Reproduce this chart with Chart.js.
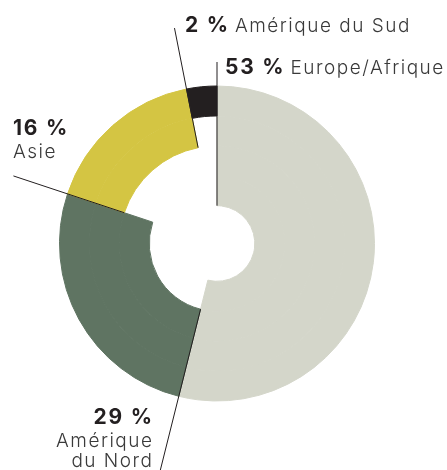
<!DOCTYPE html>
<html lang="fr">
<head>
<meta charset="utf-8">
<script src="https://cdn.jsdelivr.net/npm/chart.js@4"></script>
<style>
  html, body { margin: 0; padding: 0; background: #fff; }
  #wrap { width: 447px; height: 470px; }
</style>
</head>
<body>
<div id="wrap"><canvas id="chart" width="447" height="470"></canvas></div>
<script>
// ── Data ──────────────────────────────────────────────────────────────────
const regions   = ['Europe/Afrique', 'Amérique du Nord', 'Asie', 'Amérique du Sud'];
const pctLabels = ['53 %', '29 %', '16 %', '2 %'];
const shares    = [53.9, 26.2, 16.8, 3.1];
// number of stacked rings each slice fills (outer ring first)
const ringDepth = [4, 3, 2, 1];
const colours   = ['#d4d6ca', '#5f7462', '#d4c543', '#231f20'];

const INK   = '#231f20';
const LIGHT = '#3a3a3a';
const FONT  = "Inter, 'Noto Sans', sans-serif";
const RINGS = 4;

// label placement: text anchor + leader line (ring whose inner edge it starts at, outer reach)
const LABELS = [
  { x: 225, y: 74,  align: 'inline', lines: ['Europe/Afrique'],      fromRing: 3, reach: 181.5 },
  { x: 152, y: 424, align: 'right',  lines: ['Amérique', 'du Nord'], fromRing: 2, reach: 245 },
  { x: 13,  y: 135, align: 'left',   lines: ['Asie'],                fromRing: 1, reach: 214.5 },
  { x: 185, y: 32,  align: 'inline', lines: ['Amérique du Sud'],     fromRing: 1, reach: 219.6 },
];

// ── Ring datasets: slice i shows on ring d only when d < ringDepth[i] ─────
const datasets = [];
for (let d = 0; d < RINGS; d++) {
  const bg = colours.map((c, i) => d < ringDepth[i] ? c : 'rgba(0,0,0,0)');
  datasets.push({
    data:            shares,
    backgroundColor: bg,
    borderColor:     bg,
    borderWidth:     1,
  });
}

// ── Labels + leader lines plugin ──────────────────────────────────────────
const BOLD_SP  = 1.8;
const LIGHT_SP = 1.5;

const calloutPlugin = {
  id: 'callouts',
  afterDraw(chart) {
    const ctx = chart.ctx;
    ctx.save();

    // leader lines along the start edge of each slice
    LABELS.forEach((lab, i) => {
      const outerArc = chart.getDatasetMeta(0).data[i];
      const innerArc = chart.getDatasetMeta(lab.fromRing).data[i];
      const a  = outerArc.startAngle;
      const r0 = innerArc.innerRadius;
      ctx.beginPath();
      ctx.moveTo(outerArc.x + Math.cos(a) * r0, outerArc.y + Math.sin(a) * r0);
      ctx.lineTo(outerArc.x + Math.cos(a) * lab.reach, outerArc.y + Math.sin(a) * lab.reach);
      ctx.strokeStyle = INK;
      ctx.lineWidth   = 1;
      ctx.stroke();
    });

    // texts
    ctx.textBaseline = 'alphabetic';
    const bold  = `700 21px ${FONT}`;
    const light = `300 19px ${FONT}`;
    LABELS.forEach((lab, i) => {
      if (lab.align === 'inline') {
        ctx.textAlign = 'left';
        ctx.font = bold;
        ctx.letterSpacing = BOLD_SP + 'px';
        ctx.fillStyle = INK;
        ctx.fillText(pctLabels[i], lab.x, lab.y);
        const w = ctx.measureText(pctLabels[i]).width;
        ctx.font = light;
        ctx.letterSpacing = LIGHT_SP + 'px';
        ctx.fillStyle = LIGHT;
        ctx.fillText(lab.lines[0], lab.x + w + 5, lab.y);
      } else {
        const shift = lab.align === 'right';
        ctx.textAlign = lab.align;
        ctx.font = bold;
        ctx.letterSpacing = BOLD_SP + 'px';
        ctx.fillStyle = INK;
        ctx.fillText(pctLabels[i], lab.x + (shift ? BOLD_SP : 0), lab.y);
        ctx.font = light;
        ctx.letterSpacing = LIGHT_SP + 'px';
        ctx.fillStyle = LIGHT;
        lab.lines.forEach((t, k) =>
          ctx.fillText(t, lab.x + (shift ? LIGHT_SP : 0), lab.y + 23 + k * 20));
      }
    });

    ctx.restore();
  },
};

new Chart(document.getElementById('chart'), {
  type: 'doughnut',
  data: { labels: regions, datasets },
  options: {
    responsive: false,
    animation:  false,
    cutout:     '24%',
    layout: { padding: { left: 59, right: 72, top: 85.5, bottom: 68.5 } },
    plugins: {
      legend:  { display: false },
      tooltip: { enabled: false },
    },
  },
  plugins: [calloutPlugin],
});
</script>
</body>
</html>
